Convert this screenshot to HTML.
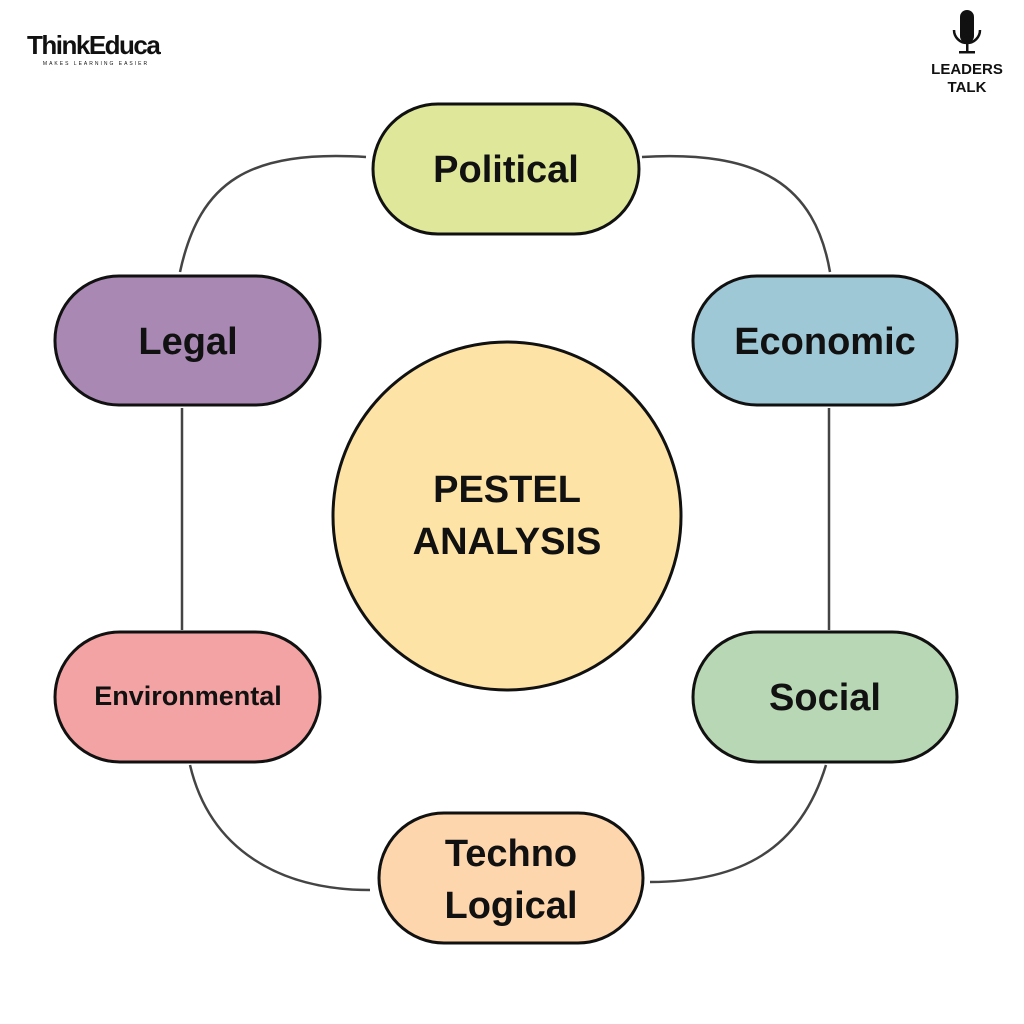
<!DOCTYPE html>
<html><head><style>
body{margin:0;background:#fff;}
svg{display:block;}
text{font-family:"Liberation Sans",sans-serif;font-weight:bold;fill:#111;}
</style></head><body>
<svg width="1024" height="1024" viewBox="0 0 1024 1024">
<rect width="1024" height="1024" fill="#fff"/>
<g fill="none" stroke="#444" stroke-width="2.5">
<path d="M366 157 C250 150 200 180 180 272"/>
<path d="M642 157 C760 150 815 185 830 272"/>
<path d="M182 408 L182 630"/>
<path d="M829 408 L829 630"/>
<path d="M190 765 C210 850 280 890 370 890"/>
<path d="M826 765 C800 850 740 882 650 882"/>
</g>
<g stroke="#111" stroke-width="3">
<rect x="373" y="104" width="266" height="130" rx="65" fill="#dfe79a"/>
<rect x="55" y="276" width="265" height="129" rx="64" fill="#a989b4"/>
<rect x="693" y="276" width="264" height="129" rx="64" fill="#9fc8d6"/>
<rect x="55" y="632" width="265" height="130" rx="65" fill="#f4a3a4"/>
<rect x="693" y="632" width="264" height="130" rx="65" fill="#b8d7b4"/>
<rect x="379" y="813" width="264" height="130" rx="65" fill="#fdd6ae"/>
<circle cx="507" cy="516" r="174" fill="#fde3a6"/>
</g>
<g text-anchor="middle">
<text x="506" y="182" font-size="38">Political</text>
<text x="188" y="354" font-size="38">Legal</text>
<text x="825" y="354" font-size="38">Economic</text>
<text x="188" y="705" font-size="27">Environmental</text>
<text x="825" y="710" font-size="38">Social</text>
<text x="511" y="866" font-size="38">Techno</text>
<text x="511" y="918" font-size="38">Logical</text>
<text x="507" y="502" font-size="38">PESTEL</text>
<text x="507" y="554" font-size="38">ANALYSIS</text>
<text x="967" y="74" font-size="15">LEADERS</text>
<text x="967" y="92" font-size="15">TALK</text>
</g>
<text x="27" y="54" font-size="26" letter-spacing="-1.5">ThinkEduca</text>
<text x="96" y="65" font-size="5" text-anchor="middle" letter-spacing="2" style="font-weight:normal">MAKES LEARNING EASIER</text>
<g fill="#111">
<rect x="960" y="10" width="14" height="33" rx="7"/>
<path d="M954 30 a13 13 0 0 0 26 0" fill="none" stroke="#111" stroke-width="2.5"/>
<rect x="966" y="43" width="2.5" height="9"/>
<rect x="959" y="51" width="16" height="2.5"/>
</g>
</svg>
</body></html>
